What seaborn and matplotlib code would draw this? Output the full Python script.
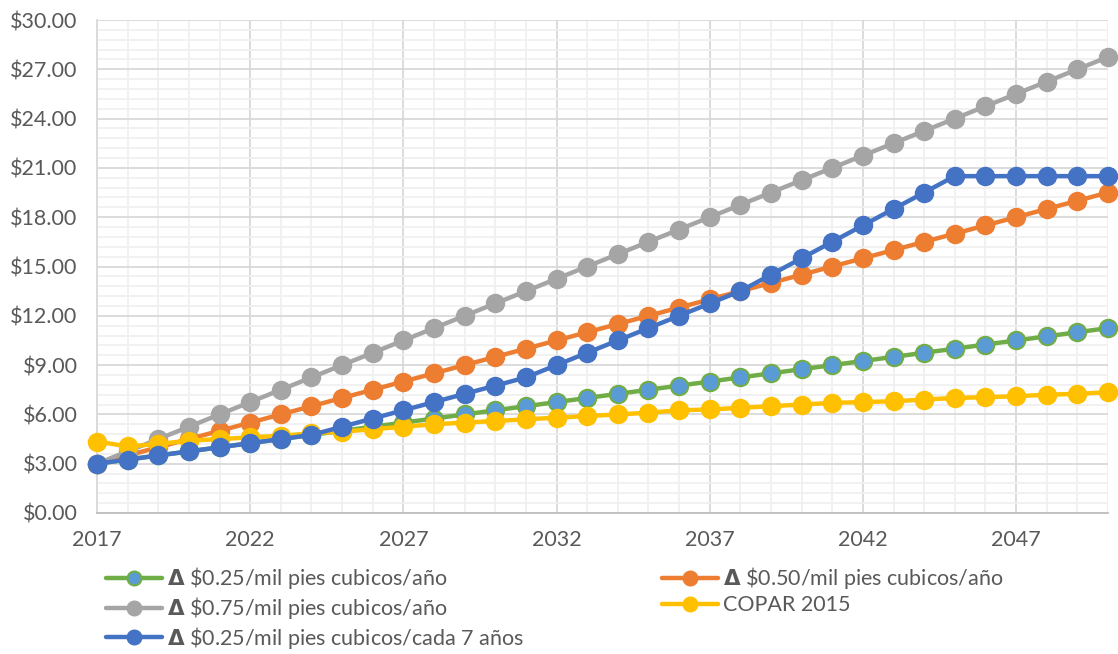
import numpy as np
import pandas as pd
import matplotlib
matplotlib.use("Agg")
import matplotlib.pyplot as plt
import seaborn as sns
from matplotlib.ticker import MultipleLocator, FuncFormatter

years = list(range(2017, 2051))
s_025 = [3.00, 3.25, 3.50, 3.75, 4.00, 4.25, 4.50, 4.75, 5.00, 5.25, 5.50, 5.75, 6.00, 6.25, 6.50, 6.75, 7.00,
         7.25, 7.50, 7.75, 8.00, 8.25, 8.50, 8.75, 9.00, 9.25, 9.50, 9.75, 10.00, 10.25, 10.50, 10.75, 11.00, 11.25]
s_050 = [3.0, 3.5, 4.0, 4.5, 5.0, 5.5, 6.0, 6.5, 7.0, 7.5, 8.0, 8.5, 9.0, 9.5, 10.0, 10.5, 11.0,
         11.5, 12.0, 12.5, 13.0, 13.5, 14.0, 14.5, 15.0, 15.5, 16.0, 16.5, 17.0, 17.5, 18.0, 18.5, 19.0, 19.5]
s_075 = [3.00, 3.75, 4.50, 5.25, 6.00, 6.75, 7.50, 8.25, 9.00, 9.75, 10.50, 11.25, 12.00, 12.75, 13.50, 14.25, 15.00,
         15.75, 16.50, 17.25, 18.00, 18.75, 19.50, 20.25, 21.00, 21.75, 22.50, 23.25, 24.00, 24.75, 25.50, 26.25, 27.00, 27.75]
copar = [4.35, 4.05, 4.20, 4.40, 4.50, 4.60, 4.70, 4.85, 4.95, 5.10, 5.25, 5.40, 5.50, 5.60, 5.70, 5.80, 5.90,
         6.00, 6.10, 6.25, 6.30, 6.40, 6.50, 6.60, 6.70, 6.75, 6.80, 6.90, 7.00, 7.05, 7.10, 7.20, 7.25, 7.35]
s_7yr = [3.00, 3.25, 3.50, 3.75, 4.00, 4.25, 4.50, 4.75, 5.25, 5.75, 6.25, 6.75, 7.25, 7.75, 8.25, 9.00, 9.75,
         10.50, 11.25, 12.00, 12.75, 13.50, 14.50, 15.50, 16.50, 17.50, 18.50, 19.50, 20.50, 20.50, 20.50, 20.50, 20.50, 20.50]

labels = [
    "$\\mathbf{Δ}$ \\$0.25/mil pies cubicos/año",
    "$\\mathbf{Δ}$ \\$0.50/mil pies cubicos/año",
    "$\\mathbf{Δ}$ \\$0.75/mil pies cubicos/año",
    "COPAR 2015",
    "$\\mathbf{Δ}$ \\$0.25/mil pies cubicos/cada 7 años",
]
series = [s_025, s_050, s_075, copar, s_7yr]
line_colors = ["#70AD47", "#ED7D31", "#A5A5A5", "#FFC000", "#4472C4"]
face_colors = ["#5B9BD5", "#ED7D31", "#A5A5A5", "#FFC000", "#4472C4"]

sns.set_theme(style="white")
plt.rcParams["font.family"] = ["Lato", "DejaVu Sans"]
plt.rcParams["mathtext.fontset"] = "custom"
plt.rcParams["mathtext.bf"] = "DejaVu Sans:bold"

FS = 15.5
fig = plt.figure(figsize=(11.18, 6.54), dpi=100)
ax = fig.add_axes([0.0868, 0.2156, 0.9042, 0.7538])

for i, (lab, vals) in enumerate(zip(labels, series)):
    df = pd.DataFrame({"year": years, "value": vals})
    sns.lineplot(data=df, x="year", y="value", ax=ax, color=line_colors[i], linewidth=3.2,
                 marker="o", markersize=12.5, markerfacecolor=face_colors[i],
                 markeredgecolor=line_colors[i], markeredgewidth=1.5,
                 label=lab, zorder=3 + i, clip_on=False)

ax.set_xlim(2017, 2050)
ax.set_ylim(0, 30)
ax.xaxis.set_minor_locator(MultipleLocator(1))
ax.yaxis.set_major_locator(MultipleLocator(3))
ax.yaxis.set_minor_locator(MultipleLocator(0.6))
ax.set_xticks([2017, 2022, 2027, 2032, 2037, 2042, 2047])
ax.yaxis.set_major_formatter(FuncFormatter(lambda v, p: f"${v:.2f}"))
ax.grid(which="major", color="#D9D9D9", linewidth=1.3)
ax.grid(which="minor", color="#F0F0F0", linewidth=1.3)
ax.set_axisbelow(True)
ax.tick_params(axis="both", which="both", length=0, labelsize=FS, labelcolor="#595959")
ax.tick_params(axis="x", pad=12)
ax.tick_params(axis="y", pad=14)
for side in ["top", "right"]:
    ax.spines[side].set_visible(False)
ax.spines["left"].set_color("#D9D9D9")
ax.spines["bottom"].set_color("#BFBFBF")
ax.spines["left"].set_linewidth(1.3)
ax.spines["bottom"].set_linewidth(1.3)
ax.set_xlabel("")
ax.set_ylabel("")

h, l = ax.get_legend_handles_labels()
order = [0, 2, 4, 1, 3]
leg = ax.legend([h[k] for k in order], [l[k] for k in order], ncol=2, loc="upper left",
                bbox_to_anchor=(0.0, -0.089), frameon=False, fontsize=FS,
                handlelength=2.6, columnspacing=6.4, labelspacing=0.17, handletextpad=0.25,
                borderaxespad=0, markerscale=0.8)
for t in leg.get_texts():
    t.set_color("#595959")

fig.savefig("out.png", dpi=100)
